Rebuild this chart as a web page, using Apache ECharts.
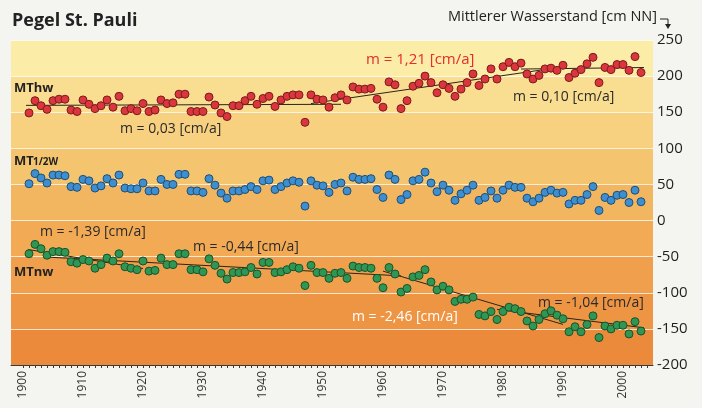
<!DOCTYPE html>
<html>
<head>
<meta charset="utf-8">
<script src="https://cdn.jsdelivr.net/npm/echarts@6/dist/echarts.min.js"></script>
<style>
  html, body { margin: 0; padding: 0; background: #f4f4f0; }
  #chart { width: 702px; height: 408px; }
</style>
</head>
<body>
<div id="chart"></div>
<script>
// Annual mean water levels at the St. Pauli gauge (Hamburg), cm NN, from 1901 on
const firstYear = 1901;

const mtHw = [
  149, 166, 159, 154, 166, 168, 168, 153, 151, 167,
  161, 155, 159, 167, 157, 172, 152, 155, 152, 162,
  151, 153, 167, 162, 163, 175, 175, 151, 151, 151,
  171, 160, 149, 144, 159, 159, 166, 172, 161, 169,
  172, 158, 167, 172, 174, 174, 136, 174, 168, 167,
  157, 170, 174, 167,
  185, 182, 182, 183, 168, 157,
  192, 188, 155, 166, 186, 190, 200, 191, 177, 188,
  183, 172, 182, 191, 203, 187, 196, 210, 196, 213,
  219, 213, 218, 203, 196, 201, 210, 211, 208, 215,
  198, 204, 209, 217, 226, 191, 212, 209, 216, 216,
  208, 227, 205
];

const mtHalf = [
  51, 65, 59, 52, 63, 63, 62, 47, 46, 57,
  55, 45, 48, 58, 52, 63, 45, 44, 44, 52,
  41, 41, 57, 50, 50, 64, 64, 41, 41, 39,
  58, 49, 38, 31, 41, 41, 43, 47, 43, 55,
  56, 43, 47, 52, 55, 53, 20, 55, 49, 48,
  39, 50, 52, 41,
  60, 57, 57, 58, 43, 32,
  63, 57, 29, 36, 55, 57, 67, 52, 40, 49,
  42, 28, 37, 42, 49, 28, 32, 41, 31, 42,
  49, 46, 46, 31, 26, 31, 39, 42, 38, 39,
  23, 28, 28, 36, 47, 14, 32, 28, 35, 36,
  25, 42, 26
];

const mtNw = [
  -46, -33, -39, -48, -43, -43, -44, -57, -59, -54,
  -56, -66, -61, -52, -56, -46, -64, -66, -68, -56,
  -70, -69, -52, -61, -61, -46, -46, -68, -68, -71,
  -53, -62, -73, -81, -72, -72, -71, -65, -74, -58,
  -58, -72, -71, -68, -64, -66, -90, -62, -72, -72,
  -80, -73, -72, -80,
  -63, -65, -65, -66, -80, -93,
  -65, -74, -99, -94, -78, -76, -68, -85, -96, -91,
  -96, -112, -109, -109, -106, -130, -132, -126, -137, -126,
  -120, -122, -126, -139, -146, -137, -129, -125, -131, -136,
  -154, -147, -154, -144, -132, -162, -146, -150, -145, -145,
  -157, -140, -153
];

// Linear trend segments: [startYear, startValue, endYear, endValue]
const trendHw = [
  [1900.5, 159.5, 1953, 161],
  [1948, 162, 1987, 209.2],
  [1983, 209.8, 2003.5, 211.9]
];
const trendNw = [
  [1900.8, -40, 1920, -66.4],
  [1904, -50.6, 1963, -76.6],
  [1960, -70, 1990, -143.8],
  [1979, -123, 2003.5, -148.5]
];

const yearLabels = [1900, 1910, 1920, 1930, 1940, 1950, 1960, 1970, 1980, 1990, 2000];
const yearTicks = [];
for (let y = 1900; y <= 2004; y++) yearTicks.push(y);

// Horizontal background bands, top (250) to bottom (-200)
const bandColors = ['#fbeca8', '#f9de91', '#f7d17f', '#f5c46e', '#f3b660',
                    '#f2aa55', '#f0a04c', '#ee9544', '#ec8a3c'];

const toPairs = arr => arr.map((v, i) => [firstYear + i, v]);

const FONT = '"Open Sans", "Noto Sans", sans-serif';
const gridBox = { left: 11, right: 49, top: 40, bottom: 43 };

// hard-stop vertical gradient producing the 50 cm bands
const stops = [];
bandColors.forEach((c, i) => {
  stops.push({ offset: i / bandColors.length, color: c });
  stops.push({ offset: (i + 1) / bandColors.length, color: c });
});

function trendSeries(segs) {
  return segs.map(s => ({
    type: 'line',
    data: [[s[0], s[1]], [s[2], s[3]]],
    showSymbol: false,
    silent: true,
    z: 3,
    lineStyle: { color: '#2a2418', width: 1 }
  }));
}

function dots(data, fill, border) {
  return {
    type: 'scatter',
    data: toPairs(data),
    symbol: 'circle',
    symbolSize: 8,
    z: 4,
    itemStyle: { color: fill, borderColor: border, borderWidth: 1, opacity: 1 }
  };
}

function label(text, x, y, opts) {
  return {
    type: 'text',
    x: x, y: y,
    silent: true,
    style: Object.assign({
      text: text,
      fill: '#2a2a2a',
      font: '14px ' + FONT,
      textAlign: 'left',
      textVerticalAlign: 'middle'
    }, opts || {})
  };
}

const chart = echarts.init(document.getElementById('chart'), null, { renderer: 'canvas' });

chart.setOption({
  backgroundColor: '#f4f4f0',
  animation: false,
  grid: Object.assign({
    show: true,
    borderWidth: 0,
    backgroundColor: new echarts.graphic.LinearGradient(0, 0, 0, 1, stops)
  }, gridBox),
  xAxis: {
    type: 'value',
    min: 1898,
    max: 2005,
    axisLine: { show: true, onZero: false, lineStyle: { color: '#3a3a3a', width: 1 } },
    axisTick: { show: true, customValues: yearTicks, length: 3, lineStyle: { color: '#3a3a3a' } },
    axisLabel: {
      customValues: yearLabels,
      formatter: v => String(v),
      rotate: 90,
      margin: 6,
      fontSize: 12,
      fontFamily: FONT,
      color: '#333'
    },
    splitLine: { show: false }
  },
  yAxis: {
    type: 'value',
    position: 'right',
    min: -200,
    max: 250,
    interval: 50,
    axisLine: { show: false },
    axisTick: { show: false },
    axisLabel: { margin: 4, fontSize: 15, fontFamily: FONT, color: '#1e1e1e' },
    splitLine: { show: true, lineStyle: { color: 'rgba(255,255,255,0.75)', width: 1 } }
  },
  series: [
    ...trendSeries(trendHw),
    ...trendSeries(trendNw),
    dots(mtHw, '#d9373d', '#7e1a1c'),
    dots(mtHalf, '#3d8fcf', '#1f4f78'),
    dots(mtNw, '#2f9653', '#18542d')
  ],
  graphic: [
    label('Pegel St. Pauli', 12, 21, { font: 'bold 18px ' + FONT, fill: '#222' }),
    label('Mittlerer Wasserstand [cm NN]', 657, 17, { font: '14.5px ' + FONT, fill: '#222', textAlign: 'right' }),
    {
      type: 'polyline', silent: true,
      shape: { points: [[660, 19], [668, 19], [668, 25]] },
      style: { stroke: '#222', lineWidth: 1, fill: null }
    },
    {
      type: 'polygon', silent: true,
      shape: { points: [[665, 24], [671, 24], [668, 29]] },
      style: { fill: '#222' }
    },
    label('MThw', 14, 88, { font: 'bold 13px ' + FONT, fill: '#222' }),
    label('MT', 14, 161, { font: 'bold 13px ' + FONT, fill: '#222' }),
    label('1/2W', 33, 162.5, { font: 'bold 10px ' + FONT, fill: '#222' }),
    label('MTnw', 14, 272, { font: 'bold 13px ' + FONT, fill: '#222' }),
    label('m = 0,03 [cm/a]', 120, 129),
    label('m = 1,21 [cm/a]', 366, 60, { fill: '#e52d2b', font: '15px ' + FONT }),
    label('m = 0,10 [cm/a]', 513, 97),
    label('m = -1,39 [cm/a]', 40, 232),
    label('m = -0,44 [cm/a]', 193, 247),
    label('m = -2,46 [cm/a]', 352, 317, { fill: '#ffffff' }),
    label('m = -1,04 [cm/a]', 538, 303)
  ]
});
</script>
</body>
</html>
